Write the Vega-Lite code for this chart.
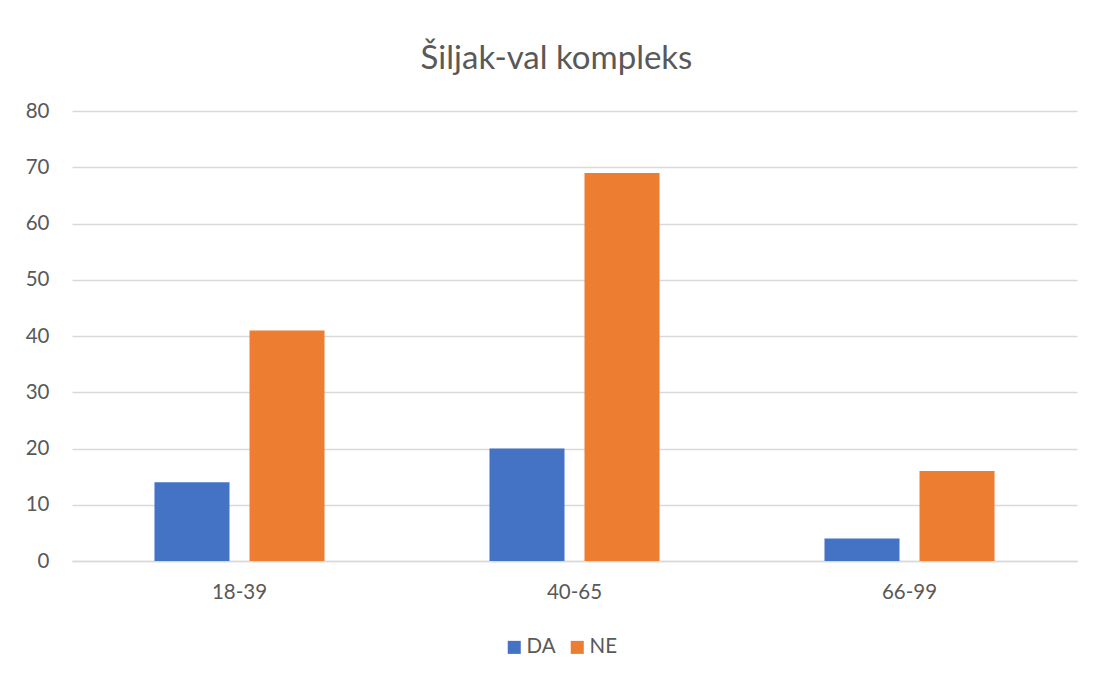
{
  "$schema": "https://vega.github.io/schema/vega-lite/v6.json",
  "autosize": "none",
  "width": 1005,
  "height": 450,
  "padding": {"left": 72, "top": 111, "right": 17, "bottom": 115},
  "background": "white",
  "title": {
    "text": "Šiljak-val kompleks",
    "font": "Lato",
    "fontSize": 33,
    "fontWeight": "normal",
    "color": "#595959",
    "anchor": "middle",
    "baseline": "alphabetic",
    "offset": 0,
    "dy": 1,
    "dx": -18
  },
  "data": {
    "values": [
      {"age": "18-39", "series": "DA", "value": 14},
      {"age": "18-39", "series": "NE", "value": 41},
      {"age": "40-65", "series": "DA", "value": 20},
      {"age": "40-65", "series": "NE", "value": 69},
      {"age": "66-99", "series": "DA", "value": 4},
      {"age": "66-99", "series": "NE", "value": 16}
    ]
  },
  "mark": {"type": "bar"},
  "encoding": {
    "x": {
      "field": "age",
      "type": "nominal",
      "scale": {"paddingInner": 0, "paddingOuter": 0},
      "axis": {
        "title": null,
        "labelAngle": 0,
        "labelFont": "Lato",
        "labelFontSize": 20.5,
        "labelColor": "#595959",
        "labelPadding": 21,
        "ticks": false,
        "domain": true,
        "domainColor": "#d9d9d9",
        "domainWidth": 1.5
      }
    },
    "xOffset": {
      "field": "series",
      "type": "nominal",
      "scale": {"paddingInner": 0.2105, "paddingOuter": 0.868}
    },
    "y": {
      "field": "value",
      "type": "quantitative",
      "scale": {"domain": [0, 80], "nice": false},
      "axis": {
        "title": null,
        "values": [0, 10, 20, 30, 40, 50, 60, 70, 80],
        "labelFont": "Lato",
        "labelFontSize": 20.5,
        "labelColor": "#595959",
        "labelPadding": 23,
        "ticks": false,
        "domain": false,
        "gridColor": "#d9d9d9",
        "gridWidth": 1.3
      }
    },
    "color": {
      "field": "series",
      "type": "nominal",
      "scale": {"domain": ["DA", "NE"], "range": ["#4472C4", "#ED7D31"]},
      "legend": {
        "title": null,
        "orient": "none",
        "direction": "horizontal",
        "legendX": 432,
        "legendY": 526,
        "symbolType": "square",
        "symbolSize": 170,
        "symbolStrokeWidth": 0,
        "symbolOpacity": 1,
        "labelFont": "Lato",
        "labelFontSize": 20.5,
        "labelColor": "#595959",
        "labelOffset": 2,
        "columnPadding": 11
      }
    }
  },
  "config": {
    "view": {"stroke": null}
  }
}
